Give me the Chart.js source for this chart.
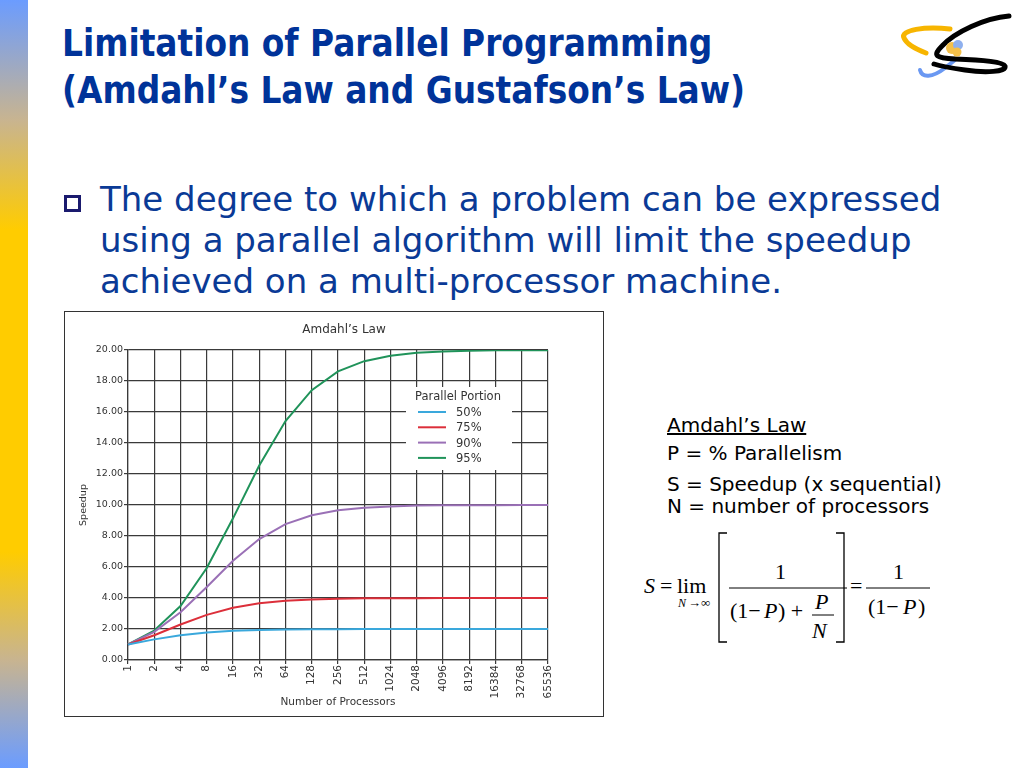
<!DOCTYPE html>
<html>
<head>
<meta charset="utf-8">
<script src="https://cdn.jsdelivr.net/npm/chart.js@4/dist/chart.umd.min.js"></script>
<style>
  html, body { margin: 0; padding: 0; background: #fff; }
  #slide { position: relative; width: 1024px; height: 768px; overflow: hidden; background: #fff; }
  #stripe { position: absolute; left: 0; top: 0; width: 28px; height: 768px;
    background: linear-gradient(to bottom, #6b9cff 0px, #c8b490 120px, #ffcc00 230px, #ffcc00 552px, #c8b490 660px, #6b9cff 768px); }
  #title { position: absolute; left: 62px; top: 20px; margin: 0; color: #003399;
    font-family: "DejaVu Sans Condensed", "DejaVu Sans", sans-serif; font-weight: bold;
    font-size: 36.5px; line-height: 47px; }
  #bullet { position: absolute; left: 64px; top: 195px; width: 11px; height: 11px; border: 3px solid #1a1a6e; }
  #body { position: absolute; left: 100px; top: 179px; margin: 0; color: #0a3a96;
    font-family: "DejaVu Sans", sans-serif; font-size: 34px; line-height: 41px; }
  #box { position: absolute; left: 64px; top: 311px; width: 538px; height: 404px; border: 1px solid #333; }
  #box canvas { display: block; }
  .note { position: absolute; left: 667px; margin: 0; color: #000;
    font-family: "DejaVu Sans", sans-serif; font-size: 20px; line-height: 22px; white-space: nowrap; }
  #formula { position: absolute; left: 630px; top: 525px; }
  #logo { position: absolute; left: 880px; top: 0px; }
</style>
</head>
<body>
<div id="slide">
  <div id="stripe"></div>
  <h1 id="title">Limitation of Parallel Programming<br>(Amdahl’s Law and Gustafson’s Law)</h1>
  <div id="bullet"></div>
  <p id="body">The degree to which a problem can be expressed<br>using a parallel algorithm will limit the speedup<br>achieved on a multi-processor machine.</p>

  <div id="box"><canvas id="chart" width="538" height="404"></canvas></div>

  <p class="note" style="top:414px;text-decoration:underline;">Amdahl’s Law</p>
  <p class="note" style="top:442px;">P = % Parallelism</p>
  <p class="note" style="top:473px;">S = Speedup (x sequential)</p>
  <p class="note" style="top:495px;">N = number of processors</p>

  <svg id="formula" width="320" height="130" viewBox="630 525 320 130">
    <g font-family="Liberation Serif, serif" fill="#000" font-size="22">
      <text x="644" y="593" font-style="italic">S</text>
      <text x="660" y="593">=</text>
      <text x="677" y="593">lim</text>
      <text x="678" y="607" font-size="12" font-style="italic">N</text>
      <text x="688" y="607" font-size="13">→∞</text>
      <path d="M727 533 H719 V642 H727" fill="none" stroke="#000" stroke-width="1.3"/>
      <text x="775" y="579">1</text>
      <line x1="729" y1="588" x2="847" y2="588" stroke="#000" stroke-width="1"/>
      <text x="730" y="618">(1−</text>
      <text x="764" y="618" font-style="italic">P</text>
      <text x="778" y="618">) +</text>
      <text x="815" y="609" font-style="italic">P</text>
      <line x1="812" y1="615" x2="834" y2="615" stroke="#000" stroke-width="1"/>
      <text x="812" y="638" font-style="italic">N</text>
      <path d="M836 533 H844 V642 H836" fill="none" stroke="#000" stroke-width="1.3"/>
      <text x="850" y="593">=</text>
      <text x="893" y="579">1</text>
      <line x1="866" y1="588" x2="930" y2="588" stroke="#000" stroke-width="1"/>
      <text x="868" y="614">(1−</text>
      <text x="903" y="614" font-style="italic">P</text>
      <text x="918" y="614">)</text>
    </g>
  </svg>

  <svg id="logo" width="144" height="100" viewBox="880 0 144 100">
    <path d="M950 29 C925 26 900 30 904 38 C907 45 918 50 926 53" fill="none" stroke="#f7b500" stroke-width="5" stroke-linecap="round"/>
    <path d="M920 70 C922 78 932 78 945 68 L955 60" fill="none" stroke="#6a98f2" stroke-width="4" stroke-linecap="round"/>
    <path d="M1009 16 C985 18 955 32 942 46 C932 56 936 58 955 59 C985 60 1003 62 1005 66 C1007 72 985 73 965 70 C950 68 940 66 934 64" fill="none" stroke="#000" stroke-width="5" stroke-linecap="round"/>
    <circle cx="952" cy="48" r="6" fill="#f4c04a"/>
    <circle cx="958" cy="45" r="5" fill="#8fb0ee"/>
    <circle cx="957" cy="52" r="4.5" fill="#f4c04a"/>
  </svg>
</div>

<script>
// x categories and speedup curves
const processors = ['1', '2', '4', '8', '16', '32', '64', '128', '256', '512', '1024',
  '2048', '4096', '8192', '16384', '32768', '65536'];
const speedup50 = [1.00, 1.33, 1.60, 1.78, 1.88, 1.94, 1.97, 1.98, 1.99, 2.00, 2.00, 2.00, 2.00, 2.00, 2.00, 2.00, 2.00];
const speedup75 = [1.00, 1.60, 2.29, 2.91, 3.37, 3.66, 3.82, 3.91, 3.95, 3.98, 3.99, 3.99, 4.00, 4.00, 4.00, 4.00, 4.00];
const speedup90 = [1.00, 1.82, 3.08, 4.71, 6.40, 7.80, 8.77, 9.34, 9.66, 9.83, 9.91, 9.96, 9.98, 9.99, 9.99, 10.00, 10.00];
const speedup95 = [1.00, 1.90, 3.48, 5.93, 9.14, 12.55, 15.42, 17.41, 18.62, 19.28, 19.63, 19.82, 19.91, 19.95, 19.98, 19.99, 19.99];
const seriesLabels = ['50%', '75%', '90%', '95%'];
const seriesColors = ['#3aa8dc', '#dc2f3a', '#9a70b6', '#20935a'];

const FONT = "'DejaVu Sans', sans-serif";

// title + legend in the middle of the plot, drawn by hand
const inlineLegend = {
  id: 'inlineLegend',
  afterDraw(chart) {
    const ctx = chart.ctx;
    ctx.save();
    ctx.fillStyle = '#333';
    ctx.font = '12px ' + FONT;
    ctx.textAlign = 'center';
    ctx.textBaseline = 'middle';
    ctx.fillText('Amdahl’s Law', 279, 18);

    ctx.fillStyle = '#fff';
    ctx.fillRect(341, 75, 106, 83);
    ctx.fillStyle = '#333';
    ctx.font = '11.5px ' + FONT;
    ctx.fillText('Parallel Portion', 393, 85);
    ctx.textAlign = 'left';
    chart.data.datasets.forEach((ds, i) => {
      const y = 100 + i * 15.3;
      ctx.strokeStyle = ds.borderColor;
      ctx.lineWidth = 2;
      ctx.beginPath();
      ctx.moveTo(353, y);
      ctx.lineTo(381, y);
      ctx.stroke();
      ctx.fillText(ds.label, 391, y + 1);
    });
    ctx.restore();
  }
};

new Chart(document.getElementById('chart'), {
  type: 'line',
  data: {
    labels: processors,
    datasets: [speedup50, speedup75, speedup90, speedup95].map((d, i) => ({
      label: seriesLabels[i],
      data: d,
      borderColor: seriesColors[i],
      backgroundColor: seriesColors[i],
      borderWidth: 2,
      pointRadius: 0,
      tension: 0,
      fill: false
    }))
  },
  options: {
    responsive: false,
    animation: false,
    devicePixelRatio: 1,
    layout: { padding: { top: 38, right: 55, left: 0, bottom: 0 } },
    plugins: { legend: { display: false }, title: { display: false }, tooltip: { enabled: false } },
    scales: {
      x: {
        offset: false,
        grid: { color: '#3a3a3a', lineWidth: 1.2, tickLength: 4 },
        border: { color: '#3a3a3a', width: 1.2 },
        ticks: { color: '#333', font: { family: FONT, size: 10.5 }, minRotation: 90, maxRotation: 90, padding: 1, autoSkip: false },
        title: { display: true, text: 'Number of Processors', color: '#333', font: { family: FONT, size: 10.5 }, padding: { top: 0, bottom: 7 } },
        afterFit(s) { s.height = 56; }
      },
      y: {
        min: 0,
        max: 20,
        grid: { color: '#3a3a3a', lineWidth: 1.2, tickLength: 4 },
        border: { color: '#3a3a3a', width: 1.2 },
        ticks: { stepSize: 2, color: '#333', font: { family: FONT, size: 9.5 }, padding: 1,
          callback: v => v.toFixed(2) },
        title: { display: true, text: 'Speedup', color: '#333', font: { family: FONT, size: 9.5 }, padding: { top: 13, bottom: 0 } },
        afterFit(s) { s.width = 63; }
      }
    }
  },
  plugins: [inlineLegend]
});
</script>
</body>
</html>
